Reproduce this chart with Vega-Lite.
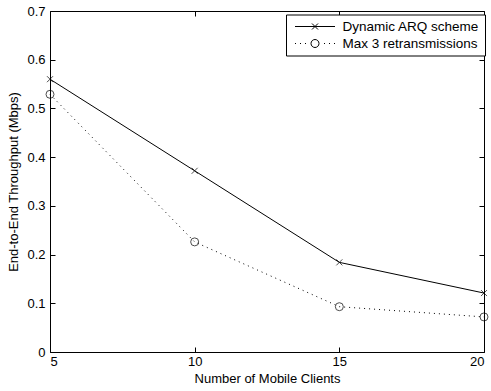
{
  "$schema": "https://vega.github.io/schema/vega-lite/v6.json",
  "width": 434,
  "height": 341,
  "autosize": "none",
  "padding": {"left": 50, "top": 11, "right": 7, "bottom": 39},
  "background": "white",
  "config": {
    "view": {"stroke": "black", "strokeWidth": 1},
    "font": "Liberation Sans",
    "axis": {
      "domain": false,
      "grid": false,
      "tickColor": "black",
      "tickSize": -5,
      "labelFont": "Liberation Sans",
      "labelFontSize": 13,
      "labelColor": "black",
      "titleFont": "Liberation Sans",
      "titleFontSize": 13,
      "titleFontWeight": "normal",
      "titleColor": "black"
    }
  },
  "data": {
    "values": [
      {"n": 5, "series": "Dynamic ARQ scheme", "tp": 0.56},
      {"n": 10, "series": "Dynamic ARQ scheme", "tp": 0.372},
      {"n": 15, "series": "Dynamic ARQ scheme", "tp": 0.184},
      {"n": 20, "series": "Dynamic ARQ scheme", "tp": 0.121},
      {"n": 5, "series": "Max 3 retransmissions", "tp": 0.529},
      {"n": 10, "series": "Max 3 retransmissions", "tp": 0.226},
      {"n": 15, "series": "Max 3 retransmissions", "tp": 0.093},
      {"n": 20, "series": "Max 3 retransmissions", "tp": 0.072}
    ]
  },
  "layer": [
    {
      "transform": [{"filter": "datum.series === 'Dynamic ARQ scheme'"}],
      "mark": {"type": "line", "color": "black", "strokeWidth": 1},
      "encoding": {
        "x": {"field": "n", "type": "quantitative", "scale": {"domain": [5, 20], "nice": false, "zero": false},
              "axis": {"values": [5, 10, 15, 20], "title": "Number of Mobile Clients", "labelPadding": 8, "titlePadding": 4, "format": "d"}},
        "y": {"field": "tp", "type": "quantitative", "scale": {"domain": [0, 0.7], "nice": false},
              "axis": {"values": [0, 0.1, 0.2, 0.3, 0.4, 0.5, 0.6, 0.7], "title": "End-to-End Throughput (Mbps)", "labelPadding": 10, "titlePadding": 6, "format": ".1~f"}}
      }
    },
    {
      "transform": [{"filter": "datum.series === 'Max 3 retransmissions'"}],
      "mark": {"type": "line", "color": "black", "strokeWidth": 1, "strokeDash": [1, 4]},
      "encoding": {
        "x": {"field": "n", "type": "quantitative", "axis": null},
        "y": {"field": "tp", "type": "quantitative", "axis": null}
      }
    },
    {
      "transform": [{"filter": "datum.series === 'Dynamic ARQ scheme'"}],
      "mark": {"type": "point", "color": "black", "filled": false, "strokeWidth": 1, "size": 64, "shape": "M-0.75,-0.75L0.75,0.75M-0.75,0.75L0.75,-0.75"},
      "encoding": {
        "x": {"field": "n", "type": "quantitative", "axis": {"orient": "top", "values": [5, 10, 15, 20], "labels": false, "title": null}},
        "y": {"field": "tp", "type": "quantitative", "axis": {"orient": "right", "values": [0, 0.1, 0.2, 0.3, 0.4, 0.5, 0.6, 0.7], "labels": false, "title": null}}
      }
    },
    {
      "transform": [{"filter": "datum.series === 'Max 3 retransmissions'"}],
      "mark": {"type": "point", "color": "black", "filled": false, "strokeWidth": 1, "size": 64, "shape": "circle"},
      "encoding": {
        "x": {"field": "n", "type": "quantitative", "axis": null},
        "y": {"field": "tp", "type": "quantitative", "axis": null}
      }
    },
    {
      "mark": {"type": "point", "color": "black", "filled": false, "strokeWidth": 1, "size": 1600, "opacity": 0},
      "encoding": {
        "x": {"field": "n", "type": "quantitative", "axis": null},
        "y": {"field": "tp", "type": "quantitative", "axis": null},
        "shape": {"field": "series", "type": "nominal",
                  "scale": {"domain": ["Dynamic ARQ scheme", "Max 3 retransmissions"],
                            "range": ["M-1,0H1M-0.15,-0.15L0.15,0.15M-0.15,0.15L0.15,-0.15",
                                      "M-1,0h0.05M-0.75,0h0.05M-0.5,0h0.05M0.45,0h0.05M0.7,0h0.05M0.95,0h0.05M0.2,0A0.2,0.2 0 1,1 -0.2,0A0.2,0.2 0 1,1 0.2,0"]},
                  "legend": {
                    "title": null,
                    "orient": "none",
                    "legendX": 236,
                    "legendY": 3.5,
                    "strokeColor": "black",
                    "fillColor": "white",
                    "padding": 5,
                    "symbolSize": 1600,
                    "symbolOpacity": 1,
                    "symbolStrokeWidth": 1,
                    "symbolStrokeColor": "black",
                    "symbolFillColor": "transparent",
                    "symbolOffset": 3.5,
                    "clipHeight": 14,
                    "labelFont": "Liberation Sans",
                    "labelFontSize": 13.5,
                    "labelColor": "black",
                    "labelOffset": 7,
                    "rowPadding": 3
                  }}
      }
    }
  ],
  "resolve": {"axis": {"x": "independent", "y": "independent"}}
}
